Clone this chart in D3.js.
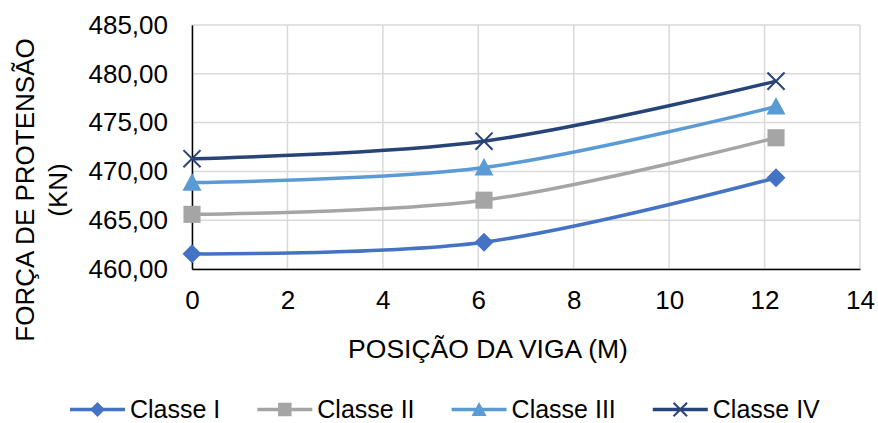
<!DOCTYPE html>
<html>
<head>
<meta charset="utf-8">
<script src="https://cdn.jsdelivr.net/npm/d3@7"></script>
<style>
  html, body { margin: 0; padding: 0; background: #fff; }
  svg { display: block; font-family: "Liberation Sans", Arial, sans-serif; }
</style>
</head>
<body>
<svg id="chart" width="878" height="423"></svg>
<script>
// ---- data ----
const positions = [0, 6.12, 12.24];
const seriesNames = ["Classe I", "Classe II", "Classe III", "Classe IV"];
const classeI   = [461.55, 462.75, 469.35];
const classeII  = [465.60, 467.05, 473.45];
const classeIII = [468.85, 470.40, 476.65];
const classeIV  = [471.30, 473.10, 479.25];
const xTicks = [0, 2, 4, 6, 8, 10, 12, 14];
const yTicks = [460, 465, 470, 475, 480, 485];
const xTitle = "POSIÇÃO DA VIGA (M)";
const yTitleLines = ["FORÇA DE PROTENSÃO", "(KN)"];

const seriesValues = [classeI, classeII, classeIII, classeIV];
const colors = ["#4472C4", "#A5A5A5", "#5B9BD5", "#264478"];
const markers = ["diamond", "square", "triangle", "x"];

// ---- layout ----
const svg = d3.select("#chart");
const pL = 192, pR = 860, pT = 25, pB = 269;
const FS = 26;

const x = d3.scaleLinear().domain([0, 14]).range([pL, pR]);
const y = d3.scaleLinear().domain([460, 485]).range([pB, pT]);
const locale = d3.formatLocale({decimal: ",", thousands: ".", grouping: [3], currency: ["", ""]});
const fmt = locale.format(".2f");

// gridlines
const grid = svg.append("g");
grid.selectAll("line.h").data(yTicks).join("line").attr("class", "h")
  .attr("x1", pL).attr("x2", pR)
  .attr("y1", d => y(d)).attr("y2", d => y(d))
  .attr("stroke", "#d9d9d9").attr("stroke-width", 1.5);
grid.selectAll("line.v").data(xTicks).join("line").attr("class", "v")
  .attr("y1", pT).attr("y2", pB)
  .attr("x1", d => x(d)).attr("x2", d => x(d))
  .attr("stroke", "#d9d9d9").attr("stroke-width", 1.5);

// axes
const yAxis = d3.axisLeft(y).tickValues(yTicks).tickFormat(fmt).tickSize(0).tickPadding(24);
const gy = svg.append("g").attr("transform", `translate(${pL},0)`).call(yAxis);
gy.select(".domain").attr("stroke", "#000").attr("stroke-width", 1.5);
gy.selectAll("text").attr("font-size", FS).attr("fill", "#000")
  .attr("font-family", "Liberation Sans, Arial, sans-serif");

const xAxis = d3.axisBottom(x).tickValues(xTicks).tickFormat(d3.format("d")).tickSize(0).tickPadding(22);
const gx = svg.append("g").attr("transform", `translate(0,${pB})`).call(xAxis);
gx.select(".domain").attr("stroke", "#000").attr("stroke-width", 1.5);
gx.selectAll("text").attr("font-size", FS).attr("fill", "#000")
  .attr("font-family", "Liberation Sans, Arial, sans-serif");

// titles
svg.append("text").attr("x", 488).attr("y", 358)
  .attr("text-anchor", "middle").attr("font-size", 26.5).attr("fill", "#000").text(xTitle);
const yt = svg.append("text").attr("transform", "translate(34,190) rotate(-90)")
  .attr("text-anchor", "middle").attr("font-size", FS).attr("fill", "#000");
yTitleLines.forEach((t, i) => yt.append("tspan").attr("x", 0).attr("y", i * 33).text(t));

// marker drawing
function drawMarker(g, type, color, s) {
  if (type === "diamond") {
    g.append("path").attr("d", `M0,${-s}L${s},0L0,${s}L${-s},0Z`).attr("fill", color);
  } else if (type === "square") {
    const h = s * 0.9;
    g.append("rect").attr("x", -h).attr("y", -h).attr("width", 2 * h).attr("height", 2 * h).attr("fill", color);
  } else if (type === "triangle") {
    const h = s;
    g.append("path").attr("d", `M0,${-h}L${h},${h * 0.85}L${-h},${h * 0.85}Z`).attr("fill", color);
  } else {
    const h = s * 0.9;
    g.append("path").attr("d", `M${-h},${-h}L${h},${h}M${-h},${h}L${h},${-h}`)
      .attr("stroke", color).attr("stroke-width", 2).attr("fill", "none");
  }
}

// lines
const line = d3.line().x(d => x(d[0])).y(d => y(d[1])).curve(d3.curveCatmullRom.alpha(0.5));
seriesValues.forEach((vals, i) => {
  const pts = positions.map((p, j) => [p, vals[j]]);
  svg.append("path").datum(pts).attr("d", line)
    .attr("fill", "none").attr("stroke", colors[i]).attr("stroke-width", 3.5);
  pts.forEach(p => {
    const g = svg.append("g").attr("transform", `translate(${x(p[0])},${y(p[1])})`);
    drawMarker(g, markers[i], colors[i], 9.5);
  });
});

// legend
const legY = 409.5;
let lx = 70;
seriesNames.forEach((name, i) => {
  const g = svg.append("g").attr("transform", `translate(${lx},${legY})`);
  g.append("line").attr("x1", 0).attr("x2", 55).attr("y1", 0).attr("y2", 0)
    .attr("stroke", colors[i]).attr("stroke-width", 3.5);
  const mg = g.append("g").attr("transform", "translate(27.5,0)");
  drawMarker(mg, markers[i], colors[i], 7.5);
  const t = g.append("text").attr("x", 60).attr("y", 8).attr("font-size", 25).attr("fill", "#000").text(name);
  const w = t.node().getComputedTextLength();
  lx += 60 + w + 37;
});
</script>
</body>
</html>
